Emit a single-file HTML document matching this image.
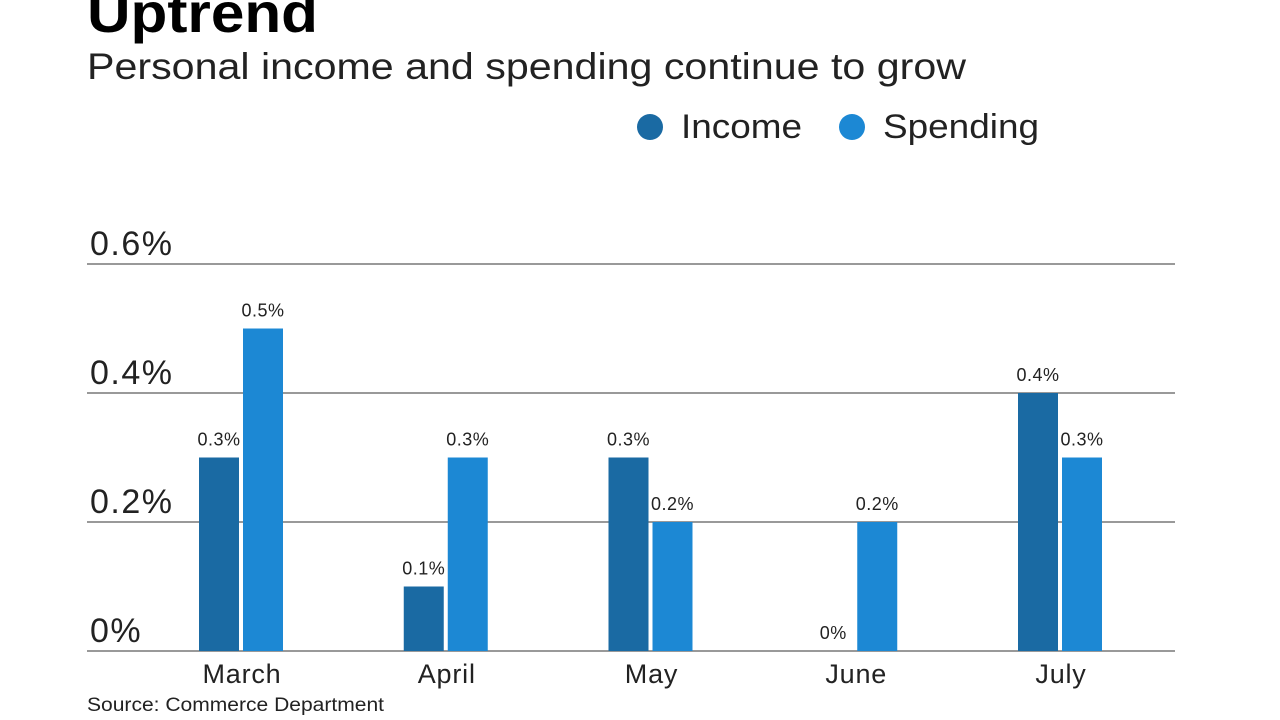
<!DOCTYPE html>
<html><head><meta charset="utf-8"><style>
html,body{margin:0;padding:0;background:#fff;width:1280px;height:720px;overflow:hidden;font-family:"Liberation Sans",sans-serif;color:#111}
</style></head><body>
<svg width="1280" height="720" xmlns="http://www.w3.org/2000/svg" font-family="Liberation Sans, sans-serif">
<text x="87" y="32" font-size="56" font-weight="bold" textLength="231" lengthAdjust="spacingAndGlyphs">Uptrend</text>
<text x="87" y="79" font-size="37" fill="#222" textLength="879" lengthAdjust="spacingAndGlyphs">Personal income and spending continue to grow</text>
<g>
<circle cx="650" cy="127" r="13" fill="#1a6aa3"/>
<text x="681" y="138" font-size="34" fill="#222" textLength="121" lengthAdjust="spacingAndGlyphs">Income</text>
<circle cx="852" cy="127" r="13" fill="#1c88d4"/>
<text x="883" y="138" font-size="34" fill="#222" textLength="156" lengthAdjust="spacingAndGlyphs">Spending</text>
</g>
<g id="grid"></g><g id="bars"></g>
<text x="87" y="711" font-size="19" fill="#222" textLength="297" lengthAdjust="spacingAndGlyphs">Source: Commerce Department</text>
</svg>
<script>
const categories=["March","April","May","June","July"];
const income=[0.3,0.1,0.3,0,0.4];
const spending=[0.5,0.3,0.2,0.2,0.3];
const ticks=[0,0.2,0.4,0.6];
const tickLabels=["0%","0.2%","0.4%","0.6%"];
const NS="http://www.w3.org/2000/svg";
const y0=651,y6=264;
function y(v){return y0-(v/0.6)*(y0-y6);}
function xc(i){return 242+i*204.75;}
function mk(t,a,p){const e=document.createElementNS(NS,t);for(const k in a)e.setAttribute(k,a[k]);p.appendChild(e);return e;}
const g=document.getElementById('grid'),b=document.getElementById('bars');
ticks.forEach((t,i)=>{
 const l=mk('line',{x1:87,x2:1175,y1:y(t),y2:y(t),stroke:'#333','stroke-width':1},g);
 
 
 const tx=mk('text',{x:90,y:y(t)-9,'font-size':34,fill:'#222','letter-spacing':'1.5'},g);tx.textContent=tickLabels[i];
 
 
});
function fmt(v){return v===0?"0%":v.toFixed(1)+"%";}
categories.forEach((c,i)=>{
 const cx=xc(i);
 [[income[i],cx-43,'#1a6aa3','income'],[spending[i],cx+1,'#1c88d4','spending']].forEach(([v,x,col,s])=>{
  const r=mk('rect',{x:x,y:y(v),width:40,height:y0-y(v),fill:col},b);
  
  
  const t=mk('text',{x:x+20,y:y(v)-12,'font-size':18,fill:'#222','text-anchor':'middle','letter-spacing':'0.5'},b);t.textContent=fmt(v);
  
  
 });
 const t=mk('text',{x:cx,y:683,'font-size':27,fill:'#222','text-anchor':'middle','letter-spacing':'0.8'},b);t.textContent=c;
 
 
});
</script>
</body></html>
